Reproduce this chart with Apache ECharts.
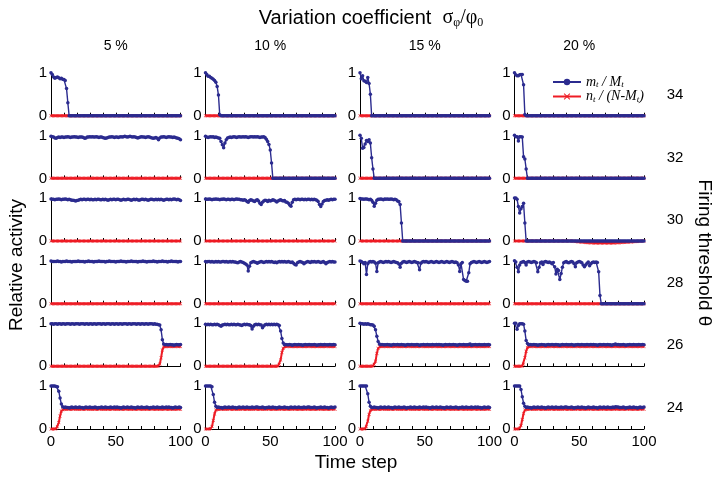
<!DOCTYPE html>
<html><head><meta charset="utf-8">
<script src="https://cdn.jsdelivr.net/npm/echarts@6/dist/echarts.min.js"></script>
<style>html,body{margin:0;padding:0;background:#fff}#c{width:717px;height:477px}</style>
</head><body><div id="c"></div>
<script>
// ---------- labels ----------
const thresholds = ['34','32','30','28','26','24'];
const cvLabels = ['5 %','10 %','15 %','20 %'];
const xTickLabels = [0, 50, 100];

// ---------- data: values in percent, time steps 0..100 ----------
// red series identically zero
const nZero = [
0,0,0,0,0,0,0,0,0,0, 0,0,0,0,0,0,0,0,0,0, 0,0,0,0,0,0,0,0,0,0, 0,0,0,0,0,0,0,0,0,0,
0,0,0,0,0,0,0,0,0,0, 0,0,0,0,0,0,0,0,0,0, 0,0,0,0,0,0,0,0,0,0, 0,0,0,0,0,0,0,0,0,0,
0,0,0,0,0,0,0,0,0,0, 0,0,0,0,0,0,0,0,0,0, 0];

// theta = 34
const m34_5 = [
100,96,90,87,89,90,88,86,87,85, 84,82,63,30,0,0,0,0,0,0,
0,0,0,0,0,0,0,0,0,0, 0,0,0,0,0,0,0,0,0,0, 0,0,0,0,0,0,0,0,0,0, 0,0,0,0,0,0,0,0,0,0,
0,0,0,0,0,0,0,0,0,0, 0,0,0,0,0,0,0,0,0,0, 0,0,0,0,0,0,0,0,0,0, 0,0,0,0,0,0,0,0,0,0, 0];
const m34_10 = [
100,96,92,92,89,87,85,82,78,68, 48,2,0,0,0,0,0,0,0,0,
0,0,0,0,0,0,0,0,0,0, 0,0,0,0,0,0,0,0,0,0, 0,0,0,0,0,0,0,0,0,0, 0,0,0,0,0,0,0,0,0,0,
0,0,0,0,0,0,0,0,0,0, 0,0,0,0,0,0,0,0,0,0, 0,0,0,0,0,0,0,0,0,0, 0,0,0,0,0,0,0,0,0,0, 0];
const m34_15 = [
100,86,93,81,80,77,89,75,50,0, 0,0,0,0,0,0,0,0,0,0,
0,0,0,0,0,0,0,0,0,0, 0,0,0,0,0,0,0,0,0,0, 0,0,0,0,0,0,0,0,0,0, 0,0,0,0,0,0,0,0,0,0,
0,0,0,0,0,0,0,0,0,0, 0,0,0,0,0,0,0,0,0,0, 0,0,0,0,0,0,0,0,0,0, 0,0,0,0,0,0,0,0,0,0, 0];
const m34_20 = [
100,95,93,93,95,96,96,72,3,0, 0,0,0,0,0,0,0,0,0,0,
0,0,0,0,0,0,0,0,0,0, 0,0,0,0,0,0,0,0,0,0, 0,0,0,0,0,0,0,0,0,0, 0,0,0,0,0,0,0,0,0,0,
0,0,0,0,0,0,0,0,0,0, 0,0,0,0,0,0,0,0,0,0, 0,0,0,0,0,0,0,0,0,0, 0,0,0,0,0,0,0,0,0,0, 0];

// theta = 32
const m32_5 = [
98,97,96,94,93,95,96,95,96,96, 95,96,96,97,96,95,96,96,97,96,
96,95,96,96,96,95,93,94,96,96, 97,96,97,96,96,97,96,95,96,96,
95,94,93,94,95,96,96,97,96,95, 96,96,95,96,97,96,97,98,97,96,
97,98,97,96,97,96,95,94,95,96, 97,96,96,95,96,97,96,95,94,93,
94,95,93,90,94,96,96,97,96,95, 96,97,96,96,95,96,95,94,93,92, 90];
const m32_10 = [
98,96,95,96,97,96,97,95,96,95, 94,93,86,78,71,82,90,94,95,96,
95,96,97,96,95,96,97,96,96,97, 96,97,96,95,96,97,97,96,97,96,
97,96,95,96,96,97,95,91,86,79, 66,36,0,0,0,0,0,0,0,0,
0,0,0,0,0,0,0,0,0,0, 0,0,0,0,0,0,0,0,0,0, 0,0,0,0,0,0,0,0,0,0, 0,0,0,0,0,0,0,0,0,0, 0];
const m32_15 = [
100,93,70,72,80,88,86,90,82,48, 22,0,0,0,0,0,0,0,0,0,
0,0,0,0,0,0,0,0,0,0, 0,0,0,0,0,0,0,0,0,0, 0,0,0,0,0,0,0,0,0,0, 0,0,0,0,0,0,0,0,0,0,
0,0,0,0,0,0,0,0,0,0, 0,0,0,0,0,0,0,0,0,0, 0,0,0,0,0,0,0,0,0,0, 0,0,0,0,0,0,0,0,0,0, 0];
const m32_20 = [
100,97,97,87,97,97,96,50,45,22, 0,0,0,0,0,0,0,0,0,0,
0,0,0,0,0,0,0,0,0,0, 0,0,0,0,0,0,0,0,0,0, 0,0,0,0,0,0,0,0,0,0, 0,0,0,0,0,0,0,0,0,0,
0,0,0,0,0,0,0,0,0,0, 0,0,0,0,0,0,0,0,0,0, 0,0,0,0,0,0,0,0,0,0, 0,0,0,0,0,0,0,0,0,0, 0];

// theta = 30
const m30_5 = [
98,97,97,96,97,97,98,97,96,97, 97,98,97,96,97,96,95,95,94,93,
94,95,96,97,96,97,97,96,97,97, 96,97,96,96,97,96,97,97,96,96,
97,96,97,96,95,96,97,96,97,97, 96,97,97,96,95,96,97,96,96,97,
97,96,95,96,97,96,97,96,95,96, 97,97,96,97,96,95,96,97,97,96,
96,97,96,97,96,97,96,95,96,97, 97,96,97,96,97,98,97,96,97,96, 94];
const m30_10 = [
98,97,97,98,97,96,97,97,98,97, 97,96,97,97,98,97,96,97,97,96,
97,97,96,97,98,97,97,96,96,95, 96,95,92,90,94,96,95,93,92,95,
96,93,88,85,90,93,95,94,92,95, 93,94,96,95,93,91,93,95,96,94,
93,94,91,90,88,84,81,90,96,97, 96,97,97,96,97,97,96,97,96,97,
97,96,97,96,97,96,95,92,85,80, 86,92,94,95,96,95,96,97,96,97, 97];
const m30_15 = [
99,98,98,97,98,98,97,96,97,95, 90,81,88,95,97,97,98,97,96,98,
97,98,97,97,98,97,96,97,96,93, 92,85,42,0,0,0,0,0,0,0,
0,0,0,0,0,0,0,0,0,0, 0,0,0,0,0,0,0,0,0,0, 0,0,0,0,0,0,0,0,0,0, 0,0,0,0,0,0,0,0,0,0,
0,0,0,0,0,0,0,0,0,0, 0,0,0,0,0,0,0,0,0,0, 0];
const m30_20 = [
100,100,97,80,65,75,80,88,42,0, 0,0,0,0,0,0,0,0,0,0,
0,0,0,0,0,0,0,0,0,0, 0,0,0,0,0,0,0,0,0,0, 0,0,0,0,0,0,0,0,0,0, 0,0,0,0,0,0,0,0,0,0,
0,0,0,0,0,0,0,0,0,0, 0,0,0,0,0,0,0,0,0,0, 0,0,0,0,0,0,0,0,0,0, 0,0,0,0,0,0,0,0,0,0, 0];
const n30_20 = [
0,0,0,0,0,0,0,0,0,0, 0,0,0,0,0,0,0,0,0,0, 0,0,0,0,0,0,0,0,0,0, 0,0,0,0,0,0,0,0,0,0,
0,0,0,0,0,0,-0.5,-1,-1,-1.5, -2,-2,-2.5,-3,-3,-3.5,-3.5,-4,-4,-4,
-4,-4.5,-4.5,-4.5,-4.5,-4.5,-4.5,-4.5,-4.5,-4.5, -4.5,-4.5,-4.5,-4.5,-4.5,-4.5,-4.5,-4.5,-4,-4,
-4,-4,-3.5,-3.5,-3,-3,-3,-2.5,-2.5,-2, -2,-1.5,-1.5,-1,-1,-1,-0.5,-0.5,0,0, 0];

// theta = 28
const m28_5 = [
99,98,98,98,98,99,98,98,97,98, 98,98,99,98,98,98,97,98,98,98,
98,99,98,98,98,98,97,98,98,99, 98,98,98,97,98,98,98,99,98,98,
98,98,97,98,98,99,98,98,98,98, 97,98,98,98,99,98,98,98,97,98,
98,98,99,98,98,98,98,97,98,98, 98,99,98,98,97,98,98,98,98,99,
98,98,97,98,98,98,99,98,98,98, 97,98,98,99,98,98,98,98,97,98, 98];
const m28_10 = [
98,97,98,98,97,98,97,97,98,97, 98,97,97,98,98,97,98,97,97,98,
97,98,97,97,96,95,97,98,97,96, 94,92,90,76,87,95,97,98,97,96,
94,96,97,98,97,96,97,98,97,98, 97,98,97,96,97,95,97,98,97,98,
97,98,97,97,98,97,96,97,94,91, 90,95,97,98,97,96,93,95,97,98,
97,96,98,97,98,97,97,98,97,96, 97,98,96,93,96,97,98,97,98,97, 97];
const m28_15 = [
99,98,96,93,96,68,93,97,98,97, 98,97,94,75,95,97,98,97,96,97,
98,97,98,97,96,97,98,97,96,95, 92,85,94,97,98,97,96,97,98,97,
96,97,98,97,96,95,79,94,97,98, 97,98,97,96,97,98,97,96,97,98,
97,96,97,98,97,96,97,98,97,96, 97,98,97,96,97,95,90,75,93,96,
56,54,52,52,72,93,96,97,98,97, 96,97,98,97,96,97,98,97,96,97, 98];
const m28_20 = [
100,97,85,74,90,96,97,98,96,90, 97,98,97,96,97,98,97,95,74,85,
95,97,91,97,98,97,96,97,95,93, 96,86,69,80,77,56,70,85,95,97,
98,96,95,97,98,97,93,86,95,97, 98,97,95,90,86,90,94,97,88,93,
96,97,96,97,96,74,19,0,0,0, 0,0,0,0,0,0,0,0,0,0,
0,0,0,0,0,0,0,0,0,0, 0,0,0,0,0,0,0,0,0,0, 0];

// theta = 26
const m26_5 = [
99,99,98,99,99,98,99,99,98,99, 99,98,99,99,99,98,99,99,98,99,
99,99,98,99,99,99,98,99,99,98, 99,99,98,99,99,98,99,99,99,98,
99,99,98,99,99,99,98,99,99,98, 99,99,98,99,99,98,99,99,99,98,
99,99,98,99,99,99,98,99,99,98, 99,99,98,99,99,98,99,99,99,98,
99,98,98,97,96,85,62,52,50,51, 50,50,51,50,50,49,50,51,50,50, 51];
const n26_5 = [
0,0,0,0,0,0,0,0,0,0, 0,0,0,0,0,0,0,0,0,0, 0,0,0,0,0,0,0,0,0,0, 0,0,0,0,0,0,0,0,0,0,
0,0,0,0,0,0,0,0,0,0, 0,0,0,0,0,0,0,0,0,0, 0,0,0,0,0,0,0,0,0,0, 0,0,0,0,0,0,0,0,0,0,
0,0,0,1,5,20,38,45,46,46, 46,46,47,46,46,46,46,47,46,46, 46];
const m26_10 = [
98,97,98,97,98,97,97,98,97,98, 97,95,93,96,97,98,97,98,97,97,
98,97,98,97,97,98,97,96,95,97, 98,97,98,97,97,95,87,93,97,98,
97,98,97,96,90,94,97,98,97,98, 97,98,97,98,97,98,97,95,82,65,
54,50,51,50,50,51,50,49,50,51, 50,50,51,50,50,49,50,51,50,50,
51,50,50,50,51,50,49,50,50,51, 50,50,51,50,50,50,51,50,50,51, 50];
const n26_10 = [
0,0,0,0,0,0,0,0,0,0, 0,0,0,0,0,0,0,0,0,0, 0,0,0,0,0,0,0,0,0,0, 0,0,0,0,0,0,0,0,0,0,
0,0,0,0,0,0,0,0,0,0, 0,0,0,0,0,0,1,4,15,32,
42,46,46,46,47,46,46,46,46,46, 46,46,46,47,46,46,46,46,46,46,
47,46,46,46,46,46,46,47,46,46, 46,46,46,46,47,46,46,46,46,46, 46];
const m26_15 = [
100,99,99,98,99,98,99,98,97,97, 96,93,85,70,58,52,50,51,50,50,
50,51,50,50,49,50,51,50,50,51, 50,50,51,50,50,49,50,51,50,50,
51,50,50,50,51,50,49,50,50,51, 50,50,51,50,50,50,51,50,50,51,
50,51,50,50,49,50,51,50,50,51, 50,50,51,50,50,49,50,51,50,50,
51,50,50,50,51,52,49,50,50,51, 50,50,51,50,50,50,51,50,50,51, 50];
const n26_15 = [
0,0,0,0,0,0,0,0,0,0, 1,4,12,30,42,46,46,46,46,47,
46,46,46,47,46,46,46,46,47,46, 46,46,46,47,46,46,46,46,47,46,
46,46,46,47,46,46,46,46,47,46, 46,46,46,47,46,46,46,46,47,46,
46,46,46,47,46,46,46,46,47,46, 46,46,46,47,46,46,46,46,47,46,
46,46,46,47,46,46,46,46,47,46, 46,46,46,47,46,46,46,46,47,46, 46];
const m26_20 = [
100,100,86,95,99,99,99,98,82,60, 53,50,51,50,50,51,50,50,49,50,
50,51,50,50,49,50,51,50,50,51, 50,50,51,50,50,49,50,51,50,50,
51,50,50,50,51,50,49,50,50,51, 50,50,51,50,50,50,51,50,50,51,
50,51,50,50,49,50,51,50,50,51, 50,50,51,50,50,49,50,51,52,50,
51,50,50,50,51,50,49,50,50,51, 50,50,51,50,50,50,51,50,50,51, 50];
const n26_20 = [
0,0,0,0,0,0,1,5,20,35, 44,46,46,46,47,46,46,46,46,46,
46,46,46,47,46,46,46,46,47,46, 46,46,46,47,46,46,46,46,47,46,
46,46,46,47,46,46,46,46,47,46, 46,46,46,47,46,46,46,46,47,46,
46,46,46,47,46,46,46,46,47,46, 46,46,46,47,46,46,46,46,47,46,
46,46,46,47,46,46,46,46,47,46, 46,46,46,47,46,46,46,46,47,46, 46];

// theta = 24
const m24_5 = [
100,100,100,100,99,98,88,72,58,52, 50,51,50,50,49,50,51,50,50,51,
50,50,51,50,50,49,50,51,50,50, 51,50,50,50,51,50,49,50,50,51,
50,50,51,50,50,50,51,50,50,51, 50,51,50,50,49,50,51,50,50,51,
50,50,51,50,50,49,50,51,50,50, 51,50,50,50,51,50,49,50,50,51,
50,50,51,50,50,50,51,50,50,51, 50,51,50,50,49,50,51,50,50,51, 50];
const n24_5 = [
0,0,0,0,1,5,15,30,42,45, 46,46,46,47,46,46,46,46,47,46,
46,46,46,47,46,46,46,46,47,46, 46,46,46,47,46,46,46,46,47,46,
46,46,46,47,46,46,46,46,47,46, 46,46,46,47,46,46,46,46,47,46,
46,46,46,47,46,46,46,46,47,46, 46,46,46,47,46,46,46,46,47,46,
46,46,46,47,46,46,46,46,47,46, 46,46,46,47,46,46,46,46,47,46, 46];
const m24_10 = [
100,100,100,100,100,98,80,62,53,50, 51,50,50,49,50,51,50,50,51,50,
50,51,50,50,49,50,51,50,50,51, 50,50,51,50,50,50,51,50,50,51,
51,50,50,50,51,50,49,50,50,51, 50,50,51,50,50,49,50,51,50,50,
50,51,50,50,49,50,51,50,50,51, 50,50,51,50,50,50,51,50,50,51,
51,50,50,50,51,50,49,50,50,51, 50,50,51,50,50,49,50,51,50,50, 51];
const n24_10 = [
0,0,0,0,1,6,20,35,44,46, 46,46,46,47,46,46,46,46,47,46,
46,46,46,47,46,46,46,46,47,46, 46,46,46,47,46,46,46,46,47,46,
46,46,46,47,46,46,46,46,47,46, 46,46,46,47,46,46,46,46,47,46,
46,46,46,47,46,46,46,46,47,46, 46,46,46,47,46,46,46,46,47,46,
46,46,46,47,46,46,46,46,47,46, 46,46,46,47,46,46,46,46,47,46, 46];
const m24_15 = [
100,100,100,100,100,100,82,62,53,50, 50,51,50,50,49,50,51,50,50,51,
50,50,51,50,50,49,50,51,50,50, 51,50,50,50,51,50,49,50,50,51,
50,50,51,50,50,50,51,50,50,51, 50,51,50,50,49,50,51,50,50,51,
50,50,51,50,50,49,50,51,50,50, 51,50,50,50,51,50,49,50,50,51,
50,50,51,50,50,50,51,50,50,51, 50,51,50,50,49,50,51,50,50,51, 50];
const n24_15 = [
0,0,0,0,1,5,18,34,43,46, 46,46,46,47,46,46,46,46,47,46,
46,46,46,47,46,46,46,46,47,46, 46,46,46,47,46,46,46,46,47,46,
46,46,46,47,46,46,46,46,47,46, 46,46,46,47,46,46,46,46,47,46,
46,46,46,47,46,46,46,46,47,46, 46,46,46,47,46,46,46,46,47,46,
46,46,46,47,46,46,46,46,47,46, 46,46,46,47,46,46,46,46,47,46, 46];
const m24_20 = [
100,100,100,100,100,92,75,60,53,50, 51,50,50,49,50,51,50,50,51,50,
50,51,50,50,49,50,51,50,50,51, 50,50,51,50,50,50,51,50,50,51,
51,50,50,50,51,50,49,50,50,51, 50,50,51,50,50,49,50,51,50,50,
50,51,50,50,49,50,51,50,50,51, 50,50,51,50,50,50,51,50,52,51,
51,50,50,50,51,50,49,50,50,51, 50,50,51,50,50,49,50,51,50,50, 51];
const n24_20 = [
0,0,0,0,2,8,22,36,44,46, 46,46,46,47,46,46,46,46,47,46,
46,46,46,47,46,46,46,46,47,46, 46,46,46,47,46,46,46,46,47,46,
46,46,46,47,46,46,46,46,47,46, 46,46,46,47,46,46,46,46,47,46,
46,46,46,47,46,46,46,46,47,46, 46,46,46,47,46,46,46,46,47,46,
46,46,46,47,46,46,46,46,47,46, 46,46,46,47,46,46,46,46,47,46, 46];

// panel lookup [row][col]
const mData = [
  [m34_5, m34_10, m34_15, m34_20],
  [m32_5, m32_10, m32_15, m32_20],
  [m30_5, m30_10, m30_15, m30_20],
  [m28_5, m28_10, m28_15, m28_20],
  [m26_5, m26_10, m26_15, m26_20],
  [m24_5, m24_10, m24_15, m24_20]
];
const nData = [
  [nZero, nZero, nZero, nZero],
  [nZero, nZero, nZero, nZero],
  [nZero, nZero, nZero, n30_20],
  [nZero, nZero, nZero, nZero],
  [n26_5, n26_10, n26_15, n26_20],
  [n24_5, n24_10, n24_15, n24_20]
];

// ---------- layout & style ----------
const FONT = "'Liberation Sans', Arial, Helvetica, sans-serif";
const SERIF = "'Liberation Serif', 'DejaVu Serif', serif";
const BLUE = '#2b2b8f';
const RED = '#ee1c25';
const XSYM = 'path://M1,0 L5,4 L9,0 L10,1 L6,5 L10,9 L9,10 L5,6 L1,10 L0,9 L4,5 L0,1 Z';
const colLeft = [51, 205.5, 360, 514.5];
const panelW = 129.5, panelH = 43, row0Bottom = 115.7, rowStep = 62.66;

const grids = [], xAxes = [], yAxes = [], series = [];
for (let r = 0; r < 6; r++) {
  for (let c = 0; c < 4; c++) {
    const i = r * 4 + c;
    const bottom = row0Bottom + rowStep * r;
    grids.push({ left: colLeft[c], top: bottom - panelH, width: panelW, height: panelH });
    xAxes.push({
      gridIndex: i, type: 'value', min: 0, max: 100, interval: 10,
      axisLine: { lineStyle: { color: '#000', width: 1 } },
      axisTick: { inside: true, length: 3, lineStyle: { color: '#000', width: 1 } },
      axisLabel: {
        show: r === 5, color: '#000', fontSize: 15, fontFamily: FONT, margin: 5,
        showMinLabel: true, showMaxLabel: true,
        formatter: v => (xTickLabels.indexOf(v) >= 0 ? String(v) : '')
      },
      splitLine: { show: false }
    });
    yAxes.push({
      gridIndex: i, type: 'value', min: 0, max: 1, interval: 1,
      axisLine: { show: true, lineStyle: { color: '#000', width: 1 } },
      axisTick: { show: false },
      axisLabel: { color: '#000', fontSize: 15, fontFamily: FONT, margin: 4 },
      splitLine: { show: false }
    });
    series.push({
      type: 'line', name: 'n', xAxisIndex: i, yAxisIndex: i, z: 2, clip: false, silent: true,
      data: nData[r][c].map((v, t) => [t, v / 100]),
      symbol: XSYM, symbolSize: 3.5, showSymbol: true,
      lineStyle: { color: RED, width: 2 }, itemStyle: { color: RED }
    });
    series.push({
      type: 'line', name: 'm', xAxisIndex: i, yAxisIndex: i, z: 3, clip: false, silent: true,
      data: mData[r][c].map((v, t) => [t, v / 100]),
      symbol: 'circle', symbolSize: 3.5, showSymbol: true,
      lineStyle: { color: BLUE, width: 1.4 }, itemStyle: { color: BLUE }
    });
  }
}

const graphic = [
  { type: 'text', x: 371, y: 18, style: {
      text: '{a|Variation coefficient  }{g|σ}{s|φ}{g|/φ}{s|0}',
      align: 'center', verticalAlign: 'middle',
      rich: {
        a: { fontFamily: FONT, fontSize: 20, fill: '#000', color: '#000' },
        g: { fontFamily: SERIF, fontSize: 20, fill: '#000', color: '#000' },
        s: { fontFamily: SERIF, fontSize: 12, fill: '#000', color: '#000', verticalAlign: 'bottom', padding: [10, 0, 0, 0] }
      } } },
  { type: 'text', x: 17, y: 265, rotation: Math.PI / 2, style: {
      text: 'Relative activity', fontFamily: FONT, fontSize: 19, fill: '#000', align: 'center', verticalAlign: 'middle' } },
  { type: 'text', x: 704, y: 253, rotation: -Math.PI / 2, style: {
      text: 'Firing threshold θ', fontFamily: FONT, fontSize: 19, fill: '#000', align: 'center', verticalAlign: 'middle' } },
  { type: 'text', x: 356, y: 463, style: {
      text: 'Time step', fontFamily: FONT, fontSize: 19, fill: '#000', align: 'center', verticalAlign: 'middle' } }
];
cvLabels.forEach((lab, c) => {
  graphic.push({ type: 'text', x: colLeft[c] + panelW / 2, y: 46, style: {
    text: lab, fontFamily: FONT, fontSize: 14, fill: '#000', align: 'center', verticalAlign: 'middle' } });
});
thresholds.forEach((lab, r) => {
  graphic.push({ type: 'text', x: 675, y: row0Bottom + rowStep * r - 21, style: {
    text: lab, fontFamily: FONT, fontSize: 15, fill: '#000', align: 'center', verticalAlign: 'middle' } });
});

const chart = echarts.init(document.getElementById('c'), null, { renderer: 'canvas' });
chart.setOption({
  animation: false,
  backgroundColor: '#fff',
  grid: grids, xAxis: xAxes, yAxis: yAxes, series: series,
  legend: {
    data: ['m', 'n'], orient: 'vertical', left: 547, top: 70, itemWidth: 28, itemHeight: 8, itemGap: 0,
    selectedMode: false,
    formatter: name => name === 'm' ? '{i|m}{s|t}{i| / M}{s|t}' : '{i|n}{s|t}{i| / (N-M}{s|t}{i|)}',
    textStyle: { rich: {
      i: { fontFamily: SERIF, fontStyle: 'italic', fontSize: 14, color: '#000' },
      s: { fontFamily: SERIF, fontStyle: 'italic', fontSize: 9, color: '#000', verticalAlign: 'bottom', padding: [6, 0, 0, 0] }
    } }
  },
  graphic: graphic
});
</script>
</body></html>
